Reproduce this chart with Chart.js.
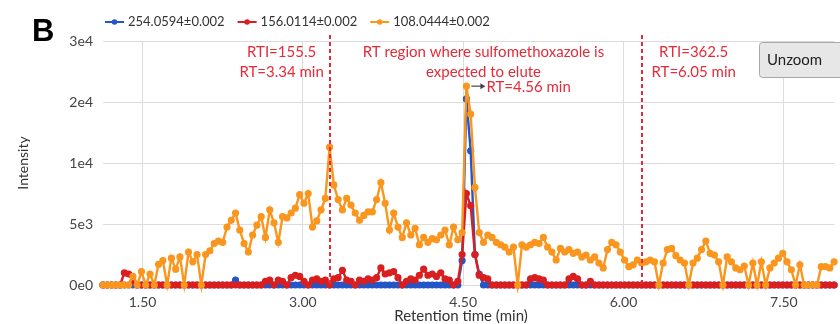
<!DOCTYPE html>
<html><head><meta charset="utf-8">
<script src="https://cdn.jsdelivr.net/npm/chart.js@4.4.1/dist/chart.umd.min.js"></script>
<style>html,body{margin:0;padding:0;background:#fff;overflow:hidden}#wrap{width:840px;height:324px;position:relative}</style>
</head><body><div id="wrap"><canvas id="c" width="840" height="324"></canvas></div>
<script>
// ---------- data ----------
const seriesLabels = ['254.0594±0.002', '156.0114±0.002', '108.0444±0.002'];
const retentionTimes = [
1.13,1.17,1.21,1.25,1.29,1.33,1.37,1.41,1.45,1.49,
1.53,1.57,1.61,1.65,1.69,1.73,1.77,1.81,1.85,1.89,
1.93,1.97,2.01,2.05,2.09,2.13,2.17,2.21,2.25,2.29,
2.33,2.37,2.41,2.45,2.49,2.53,2.57,2.61,2.65,2.69,
2.73,2.77,2.81,2.85,2.89,2.93,2.97,3.01,3.05,3.09,
3.13,3.17,3.21,3.25,3.29,3.33,3.37,3.41,3.45,3.49,
3.53,3.57,3.61,3.65,3.69,3.73,3.77,3.81,3.85,3.89,
3.93,3.97,4.01,4.05,4.09,4.13,4.17,4.21,4.25,4.29,
4.33,4.37,4.41,4.45,4.49,4.53,4.57,4.61,4.65,4.69,
4.73,4.77,4.81,4.85,4.89,4.93,4.97,5.01,5.05,5.09,
5.13,5.17,5.21,5.25,5.29,5.33,5.37,5.41,5.45,5.49,
5.53,5.57,5.61,5.65,5.69,5.73,5.77,5.81,5.85,5.89,
5.93,5.97,6.01,6.05,6.09,6.13,6.17,6.21,6.25,6.29,
6.33,6.37,6.41,6.45,6.49,6.53,6.57,6.61,6.65,6.69,
6.73,6.77,6.81,6.85,6.89,6.93,6.97,7.01,7.05,7.09,
7.13,7.17,7.21,7.25,7.29,7.33,7.37,7.41,7.45,7.49,
7.53,7.57,7.61,7.65,7.69,7.73,7.77,7.81,7.85,7.89,
7.93,7.97];
const intensity254 = [
0,0,0,0,0,0,0,0,0,0,
0,0,0,0,0,0,0,0,0,0,
0,0,0,0,0,0,0,0,0,0,
0,400,0,0,0,0,0,0,0,0,
0,0,0,0,0,0,0,0,0,0,
0,0,0,0,0,0,0,0,0,0,
0,0,0,0,0,0,0,0,0,0,
0,0,0,0,0,0,0,0,0,0,
0,0,0,0,2000,20500,12000,2500,900,0,
0,0,0,0,0,0,0,0,0,0,
0,0,0,0,0,0,0,0,0,0,
0,0,0,0,0,0,0,0,0,0,
0,0,0,0,0,0,0,0,0,0,
0,0,0,0,0,0,0,0,0,0,
0,0,0,0,0,0,0,0,0,0,
0,0,0,0,0,0,0,0,0,0,
0,0,0,0,0,0,0,0,0,0,
0,0];
const intensity156 = [
0,0,0,0,0,1000,900,300,0,0,
0,0,0,0,0,0,0,0,0,0,
0,0,0,0,0,0,0,0,0,0,
0,0,0,0,0,0,0,0,300,400,
0,400,300,0,600,800,700,300,0,400,
500,300,400,0,500,600,1200,400,300,0,
400,300,500,400,600,1400,900,1000,1100,600,
0,300,500,400,800,1300,800,900,700,1000,
500,400,0,300,2500,7500,6500,2500,800,600,
500,0,0,0,0,0,0,0,0,0,
500,600,500,400,0,0,0,0,0,500,
700,500,0,0,300,0,0,0,0,0,
0,0,0,0,0,0,0,0,0,0,
0,0,0,0,0,0,0,0,0,0,
0,0,0,0,0,0,0,0,0,0,
0,0,0,0,0,0,0,0,0,0,
0,0,0,0,0,0,0,0,0,0,
0,0];
const intensity108 = [
0,0,0,0,0,0,0,700,0,1100,
0,900,0,1700,2000,0,2200,1300,2300,0,
2700,1900,2500,0,2500,2800,3400,3600,3500,4750,
5300,5900,4500,3400,2700,4100,4900,5600,3900,6150,
5100,3500,5600,5500,5900,6300,7400,6700,7500,4750,
5250,6150,7100,12600,8200,7000,6150,7100,6550,5900,
5300,5700,6000,6000,7000,8400,6700,4500,5900,4750,
3900,5100,4100,4650,3300,3900,3500,3800,3700,4100,
4500,3300,4750,3700,4300,22600,18000,8000,4300,3500,
4100,3900,3500,3300,3100,2700,3100,0,3300,3100,
3300,3500,3400,3900,3100,2700,2050,3000,2700,2900,
2600,2700,2300,2450,2050,2300,1800,1400,2900,3500,
3300,2700,2050,1500,1650,2050,1800,1900,2050,1900,
0,1800,2900,3000,2400,2050,1800,0,1800,2200,
2900,3600,2600,2450,1900,0,2300,1900,1400,1250,
1550,0,1800,0,1900,0,1400,1800,2200,2600,
1900,1250,0,1650,0,0,0,0,1500,1500,
1400,1900];
const xTickValues = [1.5, 3.0, 4.5, 6.0, 7.5];
const yTickValues = [0, 5000, 10000, 20000, 30000];
const yTickLabels = ['0e0', '5e3', '1e4', '2e4', '3e4'];
const markerLinesRT = [3.25, 6.17];
const peakRT = 4.53, peakIntensity = 22600;
const midLabelRT = 4.69;
const leftLabel = ['RTI=155.5', 'RT=3.34 min'];
const midLabel = ['RT region where sulfomethoxazole is', 'expected to elute'];
const rightLabel = ['RTI=362.5', 'RT=6.05 min'];
const peakLabel = 'RT=4.56 min';
const xTitle = 'Retention time (min)';
const yTitle = 'Intensity';

// ---------- styles ----------
const COLORS = ['#2456c8', '#d91f1f', '#fa961e'];
const ANN_RED = '#e42b3a';
const FONT = 'Lato, "Open Sans", sans-serif';

// piecewise y scale: equal spacing between tick values
function toDecimal(v) {
  const t = yTickValues, n = t.length - 1;
  if (v <= t[0]) return (v - t[0]) / (t[1] - t[0]) / n;
  for (let i = 0; i < n; i++) {
    if (v <= t[i + 1]) return (i + (v - t[i]) / (t[i + 1] - t[i])) / n;
  }
  return (n - 1 + (v - t[n - 1]) / (t[n] - t[n - 1])) / n;
}
function fromDecimal(d) {
  const t = yTickValues, n = t.length - 1;
  const p = Math.max(0, Math.min(n - 1e-9, d * n));
  const i = Math.floor(p);
  return t[i] + (p - i) * (t[i + 1] - t[i]);
}
class PiecewiseScale extends Chart.LinearScale {
  buildTicks() { return yTickValues.map(v => ({ value: v })); }
  getPixelForValue(v) { return this.getPixelForDecimal(toDecimal(v)); }
  getValueForPixel(p) { return fromDecimal(this.getDecimalForPixel(p)); }
}
PiecewiseScale.id = 'piecewise';
PiecewiseScale.defaults = Chart.LinearScale.defaults;
Chart.register(PiecewiseScale);

const toPoints = arr => arr.map((v, i) => ({ x: retentionTimes[i], y: v }));
const seriesValues = [intensity254, intensity156, intensity108];

const overlay = {
  id: 'overlay',
  afterDatasetsDraw(chart) {
    const { ctx, chartArea, scales: { x } } = chart;
    ctx.save();
    ctx.strokeStyle = ANN_RED; ctx.lineWidth = 2; ctx.setLineDash([4, 3]);
    markerLinesRT.forEach(rt => {
      const px = Math.round(x.getPixelForValue(rt));
      ctx.beginPath(); ctx.moveTo(px, chartArea.top - 6); ctx.lineTo(px, chartArea.bottom); ctx.stroke();
    });
    ctx.restore();
  },
  afterDraw(chart) {
    const { ctx, chartArea, scales: { x, y } } = chart;
    ctx.save();
    // annotation texts
    ctx.fillStyle = ANN_RED; ctx.font = '15px ' + FONT; ctx.textAlign = 'center'; ctx.textBaseline = 'middle';
    const t1 = chartArea.top + 11, t2 = chartArea.top + 31;
    const lx = x.getPixelForValue(markerLinesRT[0]) - 48;
    ctx.fillText(leftLabel[0], lx, t1); ctx.fillText(leftLabel[1], lx, t2);
    const mx = x.getPixelForValue(midLabelRT);
    ctx.fillText(midLabel[0], mx, t1); ctx.fillText(midLabel[1], mx, t2);
    const rx = x.getPixelForValue(markerLinesRT[1]) + 52;
    ctx.fillText(rightLabel[0], rx, t1); ctx.fillText(rightLabel[1], rx, t2);
    // peak arrow
    const px = x.getPixelForValue(peakRT) + 2, py = y.getPixelForValue(peakIntensity);
    ctx.strokeStyle = '#444'; ctx.fillStyle = '#444'; ctx.lineWidth = 1.2;
    ctx.beginPath(); ctx.moveTo(px + 3, py); ctx.lineTo(px + 15, py); ctx.stroke();
    ctx.beginPath(); ctx.moveTo(px + 17, py); ctx.lineTo(px + 12, py - 3); ctx.lineTo(px + 12, py + 3); ctx.closePath(); ctx.fill();
    ctx.fillStyle = ANN_RED; ctx.textAlign = 'left';
    ctx.fillText(peakLabel, px + 18, py + 1);
    // x title
    ctx.fillStyle = '#333'; ctx.font = '15px ' + FONT; ctx.textAlign = 'center';
    ctx.fillText(xTitle, 461, 316);
    // legend
    ctx.font = '13px ' + FONT; ctx.textAlign = 'left';
    let lgx = 105; const lgy = 22;
    chart.data.datasets.forEach((ds, i) => {
      ctx.strokeStyle = COLORS[i]; ctx.fillStyle = COLORS[i]; ctx.lineWidth = 2;
      ctx.beginPath(); ctx.moveTo(lgx, lgy); ctx.lineTo(lgx + 19, lgy); ctx.stroke();
      ctx.beginPath(); ctx.arc(lgx + 9.5, lgy, 2.8, 0, Math.PI * 2); ctx.fill();
      ctx.fillStyle = '#333';
      ctx.fillText(ds.label, lgx + 23, lgy);
      lgx += 23 + ctx.measureText(ds.label).width + 13;
    });
    // panel letter
    ctx.fillStyle = '#000'; ctx.font = 'bold 31px "Liberation Sans", Arial, sans-serif'; ctx.textBaseline = 'alphabetic';
    ctx.fillText('B', 32, 41);
    // Unzoom button
    ctx.fillStyle = '#e7e7e7'; ctx.strokeStyle = '#a8a8a8'; ctx.lineWidth = 1;
    ctx.beginPath(); ctx.roundRect(759.5, 42.5, 90, 35, 3); ctx.fill(); ctx.stroke();
    ctx.fillStyle = '#222'; ctx.font = '15px ' + FONT; ctx.textBaseline = 'middle';
    ctx.fillText('Unzoom', 767, 60);
    ctx.restore();
  }
};

new Chart(document.getElementById('c'), {
  type: 'line',
  data: {
    datasets: seriesValues.map((vals, i) => ({
      label: seriesLabels[i],
      data: toPoints(vals),
      borderColor: COLORS[i],
      backgroundColor: COLORS[i],
      pointBackgroundColor: COLORS[i],
      pointBorderColor: COLORS[i],
      pointRadius: 2.8,
      pointBorderWidth: 1.6,
      borderWidth: 2.4,
      tension: 0,
      clip: 8,
      order: 2 - i
    }))
  },
  options: {
    responsive: false,
    animation: false,
    layout: { padding: { top: 41, right: 0, left: 0, bottom: 0 } },
    plugins: { legend: { display: false }, tooltip: { enabled: false } },
    scales: {
      x: {
        type: 'linear', min: 1.13, max: 7.973,
        afterBuildTicks: s => { s.ticks = xTickValues.map(v => ({ value: v })); },
        afterFit: s => { s.height = 39; },
        border: { display: false },
        grid: { color: '#dcdcdc', drawTicks: false },
        ticks: { callback: v => Number(v).toFixed(2), font: { family: FONT, size: 14 }, color: '#444', padding: 9, maxRotation: 0, autoSkip: false }
      },
      y: {
        type: 'piecewise', min: 0, max: 30000,
        afterFit: s => { s.width = 103; },
        border: { display: false },
        grid: { color: '#dcdcdc', drawTicks: false },
        ticks: { callback: (v, i) => yTickLabels[i], font: { family: FONT, size: 14 }, color: '#444', padding: 10 },
        title: { display: true, text: yTitle, font: { family: FONT, size: 14 }, color: '#333', padding: { top: 15, bottom: 0 } }
      }
    }
  },
  plugins: [overlay]
});
</script></body></html>
